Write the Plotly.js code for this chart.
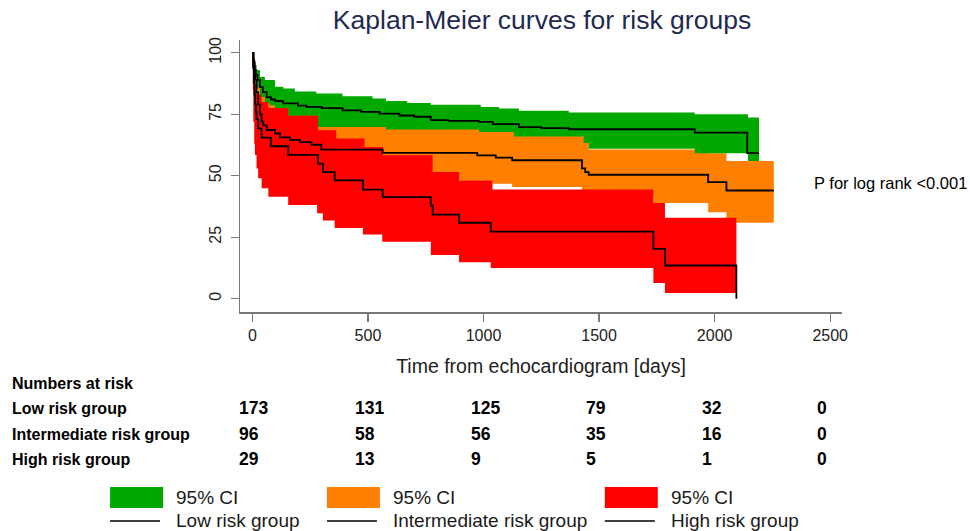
<!DOCTYPE html>
<html>
<head>
<meta charset="utf-8">
<script src="https://cdn.plot.ly/plotly-3.0.1.min.js"></script>
<style>html,body{margin:0;padding:0;background:#fff}#chart{width:970px;height:531px}</style>
</head>
<body>
<div id="chart"></div>
<script>
// ---- Kaplan-Meier estimates (day, survival %) ----
const lowT  = [0,5,10,15,22,33,45,62,80,98,132,197,234,300,390,470,550,636,700,772,850,980,1040,1153,1250,1369,1914,2141,2192];
const lowS  = [100,96,93,91,89,86,84,82,81,80.4,79.4,78.5,78,77.5,76.6,76,75.3,74.5,74,72.6,72.3,71.9,71,69.8,69.4,68.9,67.5,59.2,59.2];

const intT  = [0,4,8,12,18,25,33,40,47,62,98,119,163,206,256,298,564,973,1053,1124,1426,1440,1455,1972,2051,2256];
const intS  = [100,97,93,89,84,79,75,72,70.5,68.6,67.2,65.6,64.6,63.7,62.6,60.6,59.3,58.3,57.4,56.3,53,51.5,50.4,47.4,44,44];

const highT = [0,3,6,9,12,15,18,25,40,80,155,284,305,356,478,564,772,780,894,1031,1735,1785,2094,2094];
const highS = [100,94,88,83,79,76,73,69.3,65.5,62,58.5,54.9,51.5,48.1,44.4,41.3,37.9,34.2,30.9,27.3,20.3,13.5,13.5,0];

// ---- 95% confidence bands ----
const lowUpT = [0,5,10,18,33,54,98,134,184,277,390,520,578,670,772,988,1067,1153,1369,1914,2144,2192];
const lowUp  = [100,97,95,93,90.2,88.9,86.2,85.5,84.3,83.4,82.3,81.4,80.4,79.6,78.9,78,77.3,76.4,75.7,75,73.7,73.7];
const lowLoT = [0,5,10,18,33,54,75,98,155,284,578,980,1131,1433,1455,1914,2144,2192];
const lowLo  = [100,94,90,86,82,79.5,78.7,77.6,74.4,69.8,68.8,67.8,66,63.3,61,59.1,56,56];

const intUpT = [0,5,12,25,40,61,104,205,300,578,973,1124,1426,1455,1972,2051,2256];
const intUp  = [100,97,92,88,84,80,78,76,73,71,70,69,66,60.7,59.1,56,56];
const intLoT = [0,10,25,40,61,119,205,298,578,780,895,1039,1124,1426,1735,1972,2051,2256];
const intLo  = [100,85,75,68,63,58,56,53,51,50,48,46.7,45.4,42,38.9,35.2,30.9,30.9];

const highUpT = [0,4,10,20,40,69,155,284,363,485,565,780,895,1039,1735,1785,2094];
const highUp  = [100,92,87,83,80,77.6,74.4,68.5,65.1,61.7,58.3,51.5,48.1,44.4,38.9,32.9,32.9];
const highLoT = [0,2,4,8,11,18,25,40,69,155,280,305,356,478,562,772,894,1031,1735,1785,2094];
const highLo  = [100,85,72,63,58.4,53,49,44.9,41.5,38.1,34.8,31.8,28.8,26.1,23.2,17.8,14.8,12.5,6.4,2.3,2.3];

// ---- Numbers at risk table ----
const riskTimes  = [0,500,1000,1500,2000,2500];
const groupNames = ["Low risk group","Intermediate risk group","High risk group"];
const atRiskLow  = [173,131,125,79,32,0];
const atRiskInt  = [96,58,56,35,16,0];
const atRiskHigh = [29,13,9,5,1,0];

const colors = {low:"#00a800", int:"#ff8000", high:"#ff0000"};

function band(t, y, fillcol){
  return {x:t, y:y, type:"scatter", mode:"lines", line:{shape:"hv", width:0, color:fillcol},
          fill: fillcol ? "tonexty" : "none", fillcolor: fillcol || undefined,
          showlegend:false, hoverinfo:"skip"};
}
function curve(t, y){
  return {x:t, y:y, type:"scatter", mode:"lines", line:{shape:"hv", width:1.8, color:"#000"},
          showlegend:false, hoverinfo:"x+y"};
}

const traces = [
  band(intLoT, intLo, null), band(intUpT, intUp, colors.int),
  band(lowLoT, lowLo, null), band(lowUpT, lowUp, colors.low),
  band(highLoT, highLo, null), band(highUpT, highUp, colors.high),
  curve(lowT, lowS), curve(intT, intS), curve(highT, highS)
];

// pixel -> paper helpers for decorations outside the plot area
const L=240, R=842.3, T=40, B=312;
const px = v => (v-L)/(R-L);
const py = v => (B-v)/(B-T);

const annotations = [];
const shapes = [];
const tableFont = {family:"'Liberation Sans Narrow', 'Arial Narrow', 'Liberation Sans', sans-serif", size:16, color:"#000", weight:"bold"};
const numFont = {family:"'Liberation Sans', sans-serif", size:17.5, color:"#000", weight:"bold"};

annotations.push({text:"<b>Numbers at risk</b>", xref:"paper", yref:"paper", x:px(10), y:py(383), xanchor:"left", yanchor:"middle", showarrow:false, font:tableFont});
const rowsY = [408,434,459];
const rows = [atRiskLow, atRiskInt, atRiskHigh];
groupNames.forEach((g,i)=>{
  annotations.push({text:"<b>"+g+"</b>", xref:"paper", yref:"paper", x:px(10), y:py(rowsY[i]), xanchor:"left", yanchor:"middle", showarrow:false, font:tableFont});
  rows[i].forEach((n,j)=>{
    annotations.push({text:"<b>"+n+"</b>", xref:"x", yref:"paper", x:riskTimes[j], xshift:-15, y:py(rowsY[i]), xanchor:"left", yanchor:"middle", showarrow:false, font:numFont});
  });
});

annotations.push({text:"P for log rank <0.001", xref:"paper", yref:"paper", x:px(812), y:py(183), xanchor:"left", yanchor:"middle", showarrow:false,
  font:{family:"'Liberation Sans', Arial, sans-serif", size:16.5, color:"#000"}});

// legend (drawn as decoration)
const legCols = [110,327,605];
const legColors = [colors.low, colors.int, colors.high];
const legFont = {family:"'Liberation Sans', Arial, sans-serif", size:19, color:"#1a1a1a"};
legCols.forEach((cx,i)=>{
  shapes.push({type:"rect", xref:"paper", yref:"paper", x0:px(cx), x1:px(cx+53), y0:py(508), y1:py(487), fillcolor:legColors[i], line:{width:0}});
  shapes.push({type:"line", xref:"paper", yref:"paper", x0:px(cx), x1:px(cx+50), y0:py(521), y1:py(521), line:{color:"#000", width:1.5}});
  annotations.push({text:"95% CI", xref:"paper", yref:"paper", x:px(cx+64), y:py(497), xanchor:"left", yanchor:"middle", showarrow:false, font:legFont});
  annotations.push({text:groupNames[i], xref:"paper", yref:"paper", x:px(cx+64), y:py(520), xanchor:"left", yanchor:"middle", showarrow:false, font:legFont});
});

const axisFont = {family:"'Liberation Sans', Arial, sans-serif", size:16, color:"#222"};
const layout = {
  width:970, height:531,
  margin:{l:L, r:970-R, t:T, b:531-B, pad:0},
  paper_bgcolor:"#fff", plot_bgcolor:"#fff",
  showlegend:false,
  title:{text:"Kaplan-Meier curves for risk groups", x:542/970, xref:"container", xanchor:"center", y:1-20/531, yref:"container", yanchor:"middle",
         font:{family:"'Liberation Sans', Arial, sans-serif", size:26.5, color:"#1f2a50"}},
  xaxis:{range:[-53.6,2551], tickvals:riskTimes, ticks:"outside", ticklen:8, tickcolor:"#777", tickwidth:1.3,
         showline:true, linecolor:"#777", linewidth:1.5, showgrid:false, zeroline:false, tickfont:axisFont,
         title:{text:"Time from echocardiogram [days]", font:{family:"'Liberation Sans', Arial, sans-serif", size:19.5, color:"#222"}, standoff:16}},
  yaxis:{range:[-5.4,105.2], tickvals:[0,25,50,75,100], ticks:"outside", ticklen:8, tickcolor:"#777", tickwidth:1.3,
         showline:true, linecolor:"#777", linewidth:1.5, showgrid:false, zeroline:false, tickangle:-90, tickfont:axisFont, ticklabelstandoff:3},
  annotations:annotations, shapes:shapes
};

Plotly.newPlot("chart", traces, layout, {displayModeBar:false, staticPlot:true});
</script>
</body>
</html>
